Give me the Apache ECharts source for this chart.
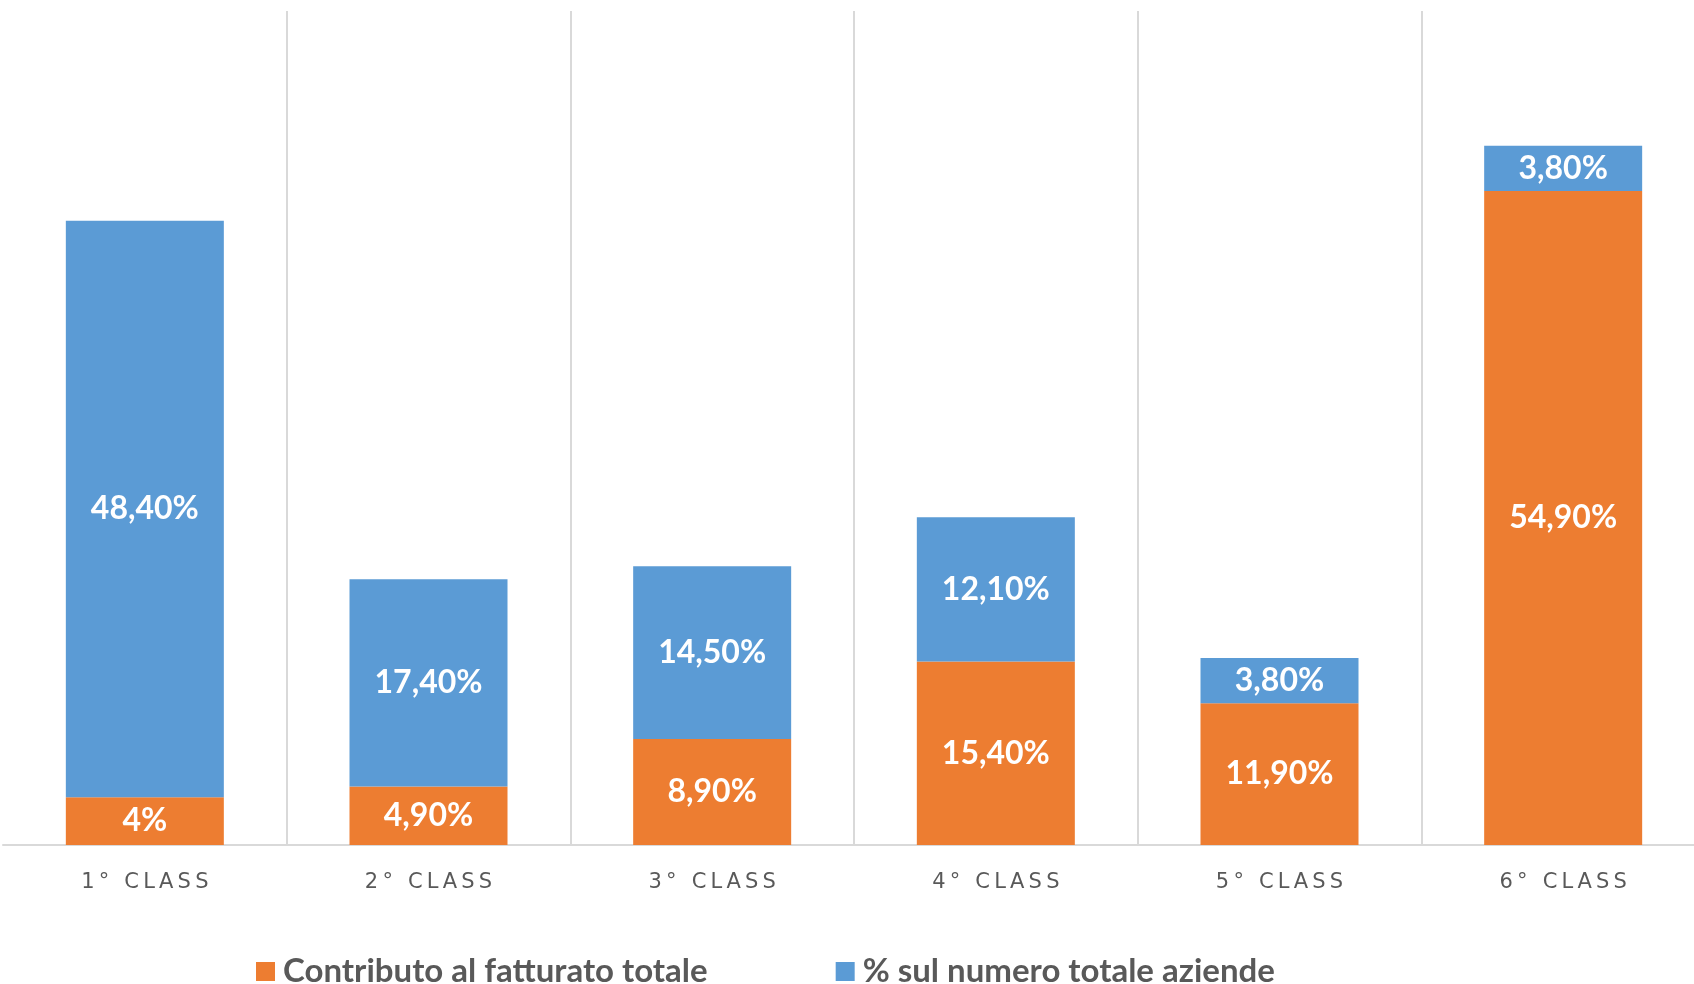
<!DOCTYPE html>
<html>
<head>
<meta charset="utf-8">
<script src="https://cdn.jsdelivr.net/npm/echarts@6/dist/echarts.min.js"></script>
<style>
	html, body { margin: 0; padding: 0; background: #fff; overflow: hidden; }
	/* a little wider than the window: the last column runs off the right edge */
	#chart { width: 1706px; height: 984px; }
</style>
</head>
<body>
<div id="chart"></div>
<script>
	var categories = ['1° CLASS', '2° CLASS', '3° CLASS', '4° CLASS', '5° CLASS', '6° CLASS'];
	var fatturato = [4, 4.9, 8.9, 15.4, 11.9, 54.9];
	var aziende = [48.4, 17.4, 14.5, 12.1, 3.8, 3.8];
	var seriesNames = ['Contributo al fatturato totale', '% sul numero totale aziende'];

	// 4 -> "4%", 4.9 -> "4,90%"
	function pct(v) {
		if (Number.isInteger(v)) {
			return v + '%';
		}
		return v.toFixed(2).replace('.', ',') + '%';
	}

	var barLabel = {
		show: true,
		position: 'inside',
		color: '#fff',
		fontFamily: 'Lato',
		fontWeight: 'bold',
		fontSize: 32,
		formatter: function (p) { return pct(p.value); }
	};

	var chart = echarts.init(document.getElementById('chart'));
	chart.setOption({
		animation: false,
		grid: { left: 3, right: 1, top: 11, bottom: 139 },
		legend: {
			data: seriesNames,
			left: 251,
			top: 950,
			itemWidth: 19,
			itemHeight: 19,
			itemGap: 128,
			icon: 'rect',
			textStyle: { color: '#595959', fontFamily: 'Lato', fontSize: 33, fontWeight: 'bold', padding: [0, 0, 0, 3] }
		},
		xAxis: {
			type: 'category',
			data: categories,
			axisTick: { show: false },
			axisLine: { lineStyle: { color: '#d9d9d9', width: 2 } },
			axisLabel: {
				color: '#595959',
				fontFamily: 'DejaVu Sans',
				fontSize: 21,
				margin: 27,
				formatter: function (v) { return v.split('').join('\u2009'); }
			},
			splitLine: {
				show: true,
				showMinLine: false,
				showMaxLine: false,
				lineStyle: { color: '#d9d9d9', width: 2 }
			}
		},
		yAxis: { type: 'value', min: 0, max: 70, show: false },
		series: [
			{
				name: seriesNames[0],
				type: 'bar',
				stack: 'tot',
				barWidth: 158,
				data: fatturato,
				itemStyle: { color: '#ED7D31' },
				label: barLabel
			},
			{
				name: seriesNames[1],
				type: 'bar',
				stack: 'tot',
				barWidth: 158,
				data: aziende,
				itemStyle: { color: '#5B9BD5' },
				label: barLabel
			}
		]
	});
</script>
</body>
</html>
